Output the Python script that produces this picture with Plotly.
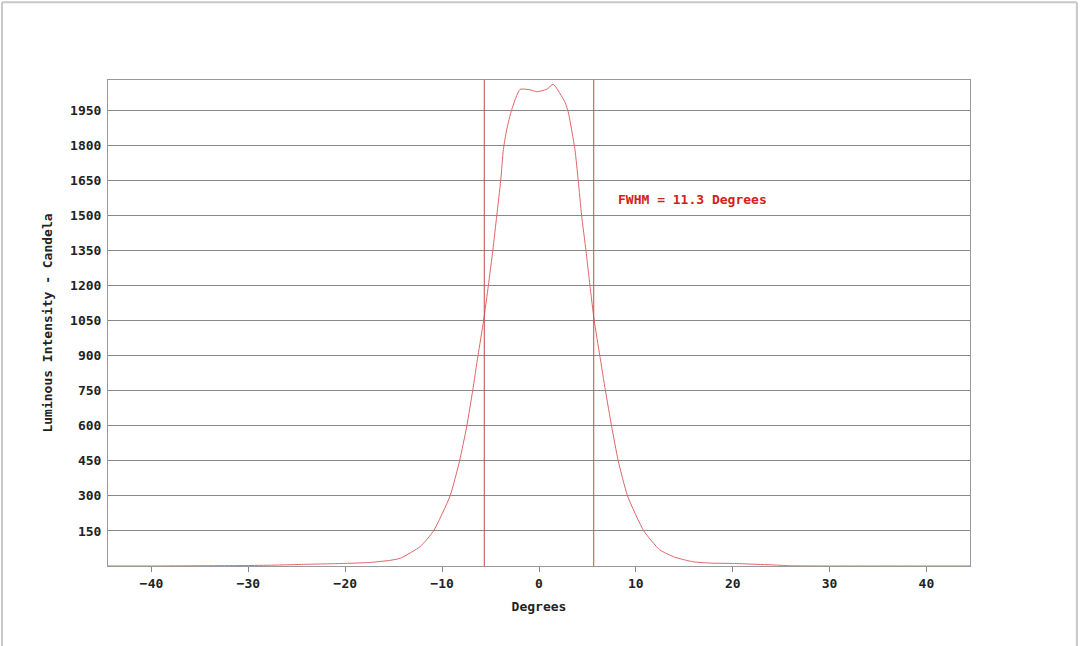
import plotly.graph_objects as go

# Data
degrees = [-44.5, -40, -35, -30, -27, -24.3, -22, -20, -17.5, -15.4, -14.33, -12.27, -10.89,
           -9.18, -8.2, -7.45, -6.85, -6.3, -5.72, -5.23, -4.77, -4.36, -3.95, -3.68,
           -3.33, -2.81, -1.96, -0.93, -0.24, 0.79, 1.47, 2.68, 3.02, 3.71, 4.05, 4.40,
           4.85, 5.26, 5.7, 6.28, 6.86, 7.49, 8.18, 9.14, 10.82, 12.47, 14.0, 15.91,
           18.0, 20.0, 22.0, 24.5, 26.0, 30.0, 35.0, 40.0, 44.5]
candela = [0, 0, 1, 2, 4, 7, 9, 11, 15, 24, 33, 83, 150,
           300, 450, 600, 750, 900, 1050, 1200, 1350, 1500, 1650, 1783,
           1869, 1954, 2040, 2038, 2030, 2040, 2062, 1985, 1943, 1783, 1650, 1500,
           1350, 1200, 1050, 900, 750, 600, 450, 300, 150, 69, 38, 18,
           12, 11, 8, 4, 1, 0, 0, 0, 0]
fwhm_left = -5.65
fwhm_right = 5.65
fwhm_label = "FWHM = 11.3 Degrees"
x_ticks = [-40, -30, -20, -10, 0, 10, 20, 30, 40]
y_ticks = [150, 300, 450, 600, 750, 900, 1050, 1200, 1350, 1500, 1650, 1800, 1950]

FONT = "DejaVu Sans Mono"
TXT = "#222222"
FS = 13

fig = go.Figure()
fig.add_trace(go.Scatter(x=degrees, y=candela, mode="lines",
                         line=dict(color="#e06666", width=1, shape="spline", smoothing=0.5),
                         showlegend=False, hoverinfo="x+y"))

for xv in (fwhm_left, fwhm_right):
    fig.add_shape(type="line", xref="x", yref="paper", x0=xv, x1=xv, y0=0, y1=1,
                  line=dict(color="#c84848", width=1))

fig.add_annotation(x=7.9, y=1569, xref="x", yref="y", text=fwhm_label, showarrow=False,
                   xanchor="left", yanchor="middle",
                   font=dict(family=FONT, size=FS, color="#d42020", weight="bold"))

# outer light border of the image
for (x0, y0, x1, y1) in [(-0.123, -0.2, -0.123, 1.160), (-0.123, 1.160, 1.124, 1.160),
                         (1.124, 1.160, 1.124, -0.2)]:
    fig.add_shape(type="line", xref="paper", yref="paper", x0=x0, y0=y0, x1=x1, y1=y1,
                  line=dict(color="#c8c8c8", width=2))

fig.update_layout(
    width=1080, height=646,
    margin=dict(l=108, r=110, t=80, b=80, autoexpand=False),
    paper_bgcolor="white", plot_bgcolor="white",
    font=dict(family=FONT, size=FS, color=TXT),
    showlegend=False,
)
fig.update_xaxes(range=[-44.5, 44.5], tickvals=x_ticks, ticks="outside", ticklen=5,
                 tickcolor="#888", showgrid=False, zeroline=False,
                 showline=True, linecolor="#999", linewidth=1, mirror=True,
                 tickfont=dict(family=FONT, size=FS, color=TXT, weight="bold"),
                 title=dict(text="Degrees",
                            font=dict(family=FONT, size=FS, color=TXT, weight="bold"),
                            standoff=12))
fig.update_yaxes(range=[0, 2080], tickvals=y_ticks, ticks="", showgrid=True,
                 gridcolor="#888", gridwidth=1, zeroline=False,
                 showline=True, linecolor="#999", linewidth=1, mirror=True,
                 ticklabelstandoff=3,
                 tickfont=dict(family=FONT, size=FS, color=TXT, weight="bold"),
                 title=dict(text="Luminous Intensity - Candela",
                            font=dict(family=FONT, size=FS, color=TXT, weight="bold"),
                            standoff=14))

fig.write_html("out.html", config={"displayModeBar": False},
               post_script="document.body.style.margin='0';")
